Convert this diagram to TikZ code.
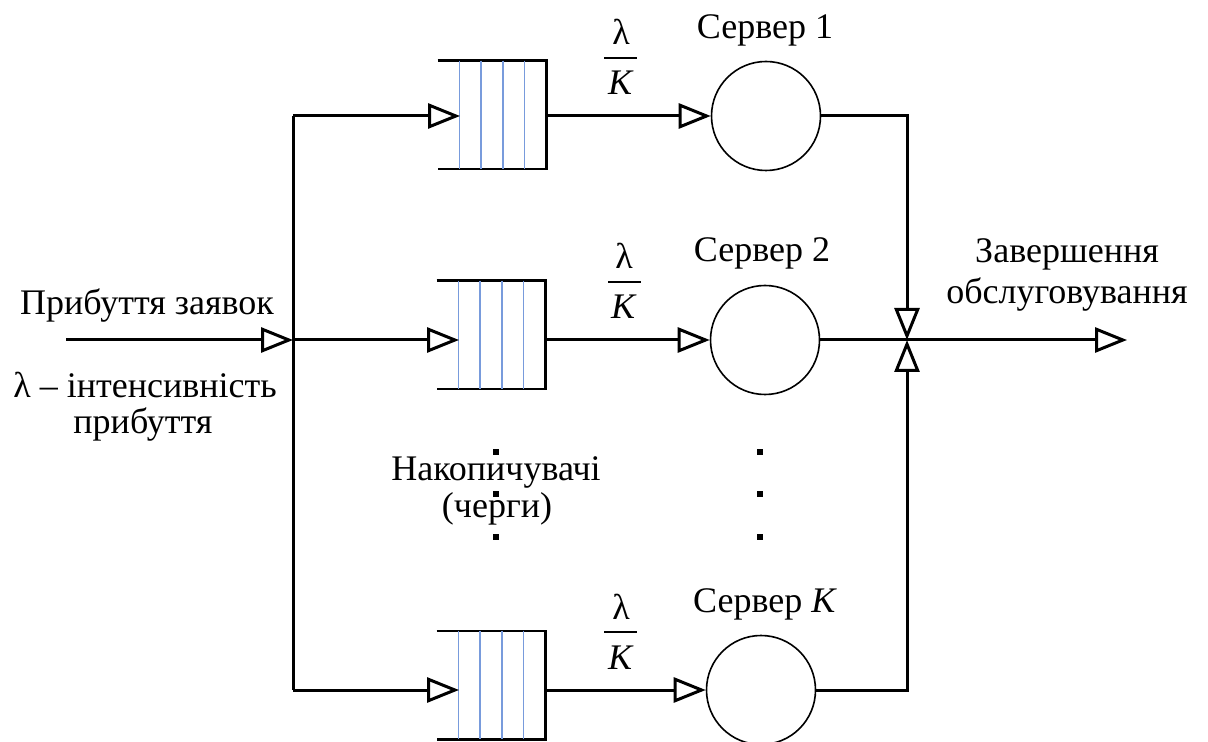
\documentclass[tikz,border=0pt]{standalone}
\usepackage{fontspec}
\setmainfont{Liberation Serif}
\usetikzlibrary{arrows.meta,calc}
\definecolor{qblue}{RGB}{120,155,220}
\begin{document}
\begin{tikzpicture}[x=0.5pt,y=-0.5pt,
  font=\fontsize{18}{21}\selectfont,
  conn/.style={line width=1.5pt},
  arr/.style={conn,-{Triangle[open,length=16pt,width=12.5pt,fill=white]}},
  server/.style={circle,draw,line width=0.8pt,minimum size=54.5pt,inner sep=0pt},
  queue/.style={minimum width=54pt,minimum height=54pt,inner sep=0pt},
  qline/.style={line width=1.1pt},
  qsep/.style={qblue,line width=0.7pt},
  lbl/.style={anchor=base,inner sep=0pt},
  fracbar/.style={line width=0.8pt},
  dotn/.style={fill,minimum size=2.6pt,inner sep=0pt}
]
\useasboundingbox (0,0) rectangle (1208,742);

% queues
\node[queue] (q1) at (492,115) {};
\node[queue] (q2) at (491,335) {};
\node[queue] (qK) at (491,685) {};
\foreach \q in {q1,q2,qK}{
  \draw[qline] (\q.north west) -- (\q.north east) -- (\q.south east) -- (\q.south west);
  \foreach \f in {0.2,0.4,0.6,0.8}
    \draw[qsep] ($(\q.north west)!\f!(\q.north east)$) -- ($(\q.south west)!\f!(\q.south east)$);
}

% servers
\node[server] (s1) at (766,116) {};
\node[server] (s2) at (765,340) {};
\node[server] (sK) at (761,690) {};

% coordinates
\coordinate (in) at (66,340);
\coordinate (j1) at (293,116);
\coordinate (j2) at (293,340);
\coordinate (jK) at (293,690);
\coordinate (e1) at (460,116);
\coordinate (e2) at (459,340);
\coordinate (eK) at (459,690);
\coordinate (m) at (907,340);
\coordinate (out) at (1127,340);

% connectors
\draw[conn] (j1) -- (jK);
\draw[arr] (in) -- (j2);
\draw[arr] (j1) -- (e1);
\draw[arr] (j2) -- (e2);
\draw[arr] (jK) -- (eK);
\draw[arr] (q1.east |- s1.west) -- (s1.west);
\draw[arr] (q2.east |- s2.west) -- (s2.west);
\draw[arr] (qK.east |- sK.west) -- (sK.west);
\draw[arr] (s1.east) -| (m);
\draw[arr] (sK.east) -| (m);
\draw[conn] (s2.east) -- (m);
\draw[arr] (m) -- (out);

% server labels
\node[lbl] (t1) at (765,39) {Сервер 1};
\node[lbl] (t2) at (762,262) {Сервер 2};
\node[lbl] (tK) at (765,612) {Сервер \textit{K}};

% fractions
\node[lbl] (l1) at (621,45) {λ};
\draw[fracbar] (604,58) -- (637,58);
\node[lbl] (k1) at (621,95) {\textit{K}};
\node[lbl] (l2) at (624,269) {λ};
\draw[fracbar] (608,282) -- (641,282);
\node[lbl] (k2) at (624,319) {\textit{K}};
\node[lbl] (lK) at (621,619) {λ};
\draw[fracbar] (604,632) -- (637,632);
\node[lbl] (kK) at (621,669) {\textit{K}};

% left texts
\node[lbl] (arrA) at (147,315) {Прибуття заявок};
\node[lbl] (arrB) at (145,398) {λ – інтенсивність};
\node[lbl] (arrC) at (143,433) {прибуття};

% right texts
\node[lbl] (doneA) at (1067,263) {Завершення};
\node[lbl] (doneB) at (1067,304) {обслуговування};

% middle texts
\node[lbl] (accA) at (496,480) {Накопичувачі};
\node[lbl] (accB) at (497,517) {(черги)};

% dots
\node[dotn] (d1) at (496,452) {};
\node[dotn] (d2) at (496,494) {};
\node[dotn] (d3) at (496,537) {};
\node[dotn] (d4) at (760,452) {};
\node[dotn] (d5) at (760,494) {};
\node[dotn] (d6) at (760,537) {};
\end{tikzpicture}
\end{document}
